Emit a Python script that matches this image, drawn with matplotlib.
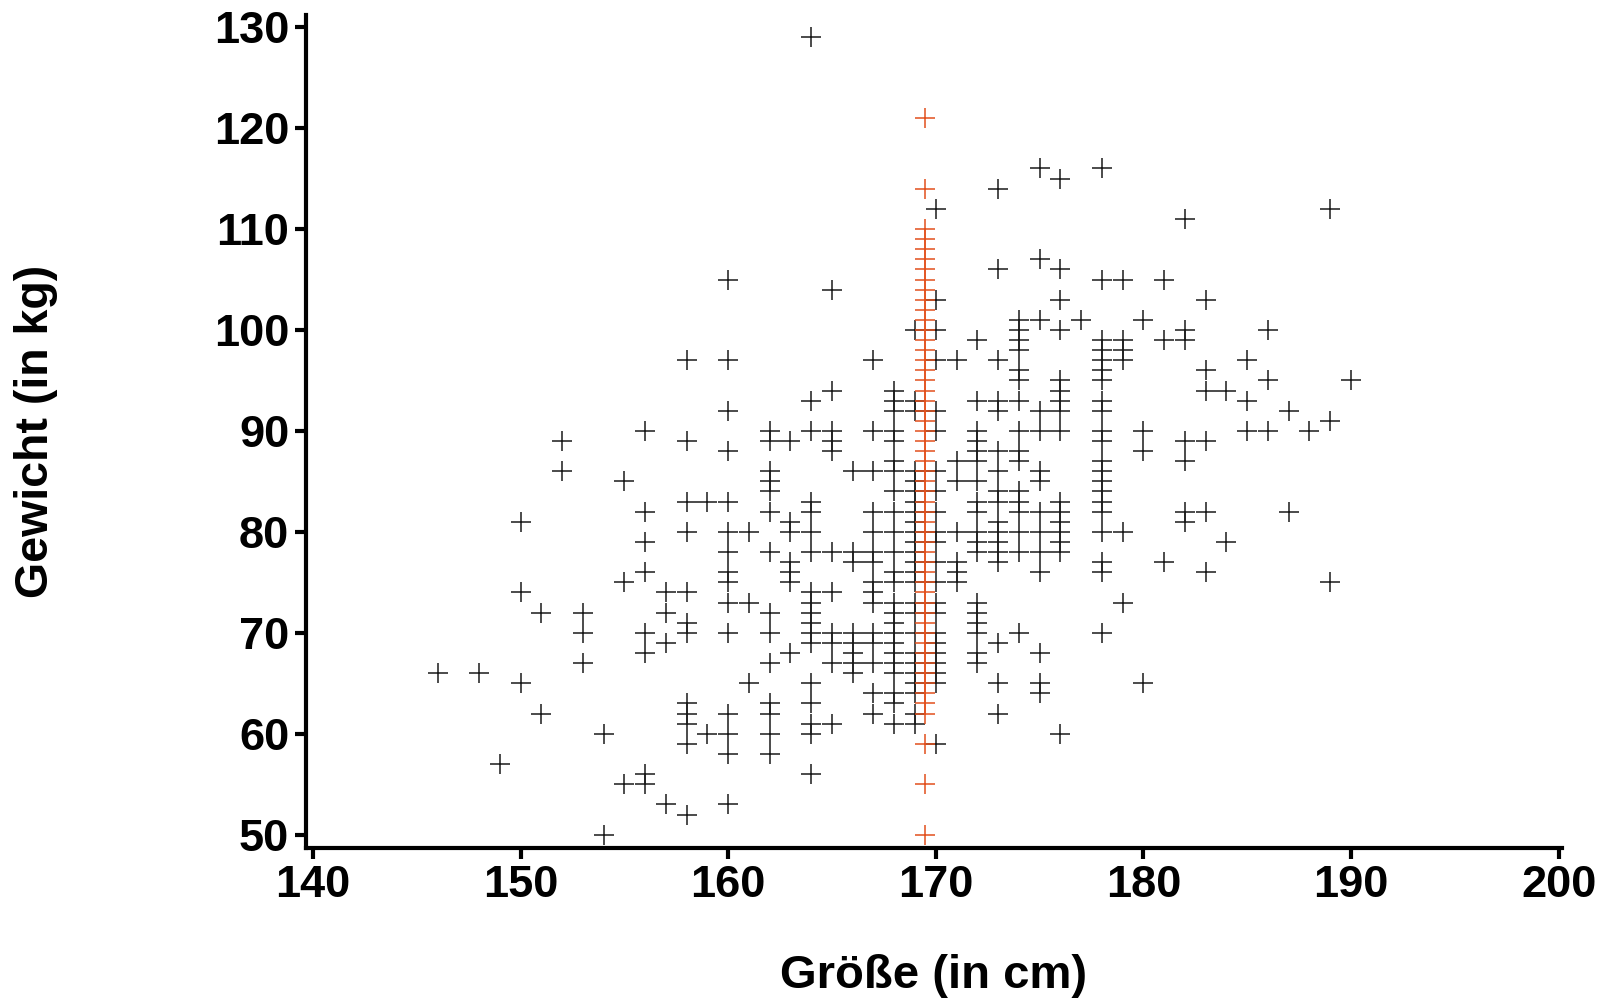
import matplotlib
matplotlib.use("Agg")
import matplotlib.pyplot as plt

# Größe (cm) -> list of Gewicht (kg) values
weights_by_height = {
    146: [66],
    148: [66],
    149: [57],
    150: [81, 74, 65],
    151: [72, 62],
    152: [89, 86],
    153: [72, 70, 67],
    154: [60, 50],
    155: [85, 75, 55],
    156: [90, 82, 79, 76, 70, 68, 56, 55],
    157: [74, 72, 69, 53],
    158: [97, 89, 83, 80, 74, 71, 70, 63, 62, 61, 59, 52],
    159: [83, 60],
    160: [105, 97, 92, 88, 83, 80, 78, 76, 75, 73, 70, 62, 60, 58, 53],
    161: [80, 73, 65],
    162: [90, 89, 86, 85, 84, 82, 78, 72, 70, 67, 63, 62, 60, 58],
    163: [89, 81, 80, 77, 76, 75, 68],
    164: [129, 93, 90, 83, 82, 80, 78, 74, 73, 72, 71, 70, 69, 65, 63, 61, 60, 56],
    165: [104, 94, 90, 89, 88, 78, 74, 70, 69, 67, 61],
    166: [86, 78, 77, 70, 69, 68, 67, 66],
    167: [97, 90, 86, 82, 80, 78, 77, 75, 74, 73, 70, 69, 67, 64, 62],
    168: [94, 93, 92, 90, 89, 87, 86, 84, 82, 80, 78, 76, 75, 73, 72, 71, 70,
          69, 68, 67, 66, 64, 63, 61],
    169: [100, 93, 92, 86, 85, 84, 83, 82, 81, 80, 79, 78, 77, 76, 75, 73, 72,
          70, 68, 67, 66, 65, 64, 62, 61],
    170: [112, 103, 100, 97, 92, 90, 86, 84, 82, 80, 79, 77, 75, 73, 72, 70,
          69, 68, 67, 66, 65, 59],
    171: [97, 87, 85, 80, 77, 76, 75],
    172: [99, 93, 90, 89, 88, 87, 85, 83, 82, 80, 79, 78, 73, 72, 71, 70, 68, 67],
    173: [114, 106, 97, 93, 92, 88, 86, 84, 83, 81, 80, 79, 78, 77, 69, 65, 62],
    174: [101, 100, 99, 98, 96, 95, 93, 90, 88, 87, 84, 83, 82, 80, 78, 70],
    175: [116, 107, 101, 92, 90, 86, 85, 82, 80, 78, 76, 68, 65, 64],
    176: [115, 106, 103, 100, 95, 94, 93, 92, 90, 83, 82, 81, 80, 79, 78, 60],
    177: [101],
    178: [116, 105, 99, 98, 97, 96, 95, 93, 92, 90, 89, 87, 86, 85, 84, 83,
          82, 80, 77, 76, 70],
    179: [105, 99, 98, 97, 80, 73],
    180: [101, 90, 88, 65],
    181: [105, 99, 77],
    182: [111, 100, 99, 89, 87, 82, 81],
    183: [103, 96, 94, 89, 82, 76],
    184: [94, 79],
    185: [97, 93, 90],
    186: [100, 95, 90],
    187: [92, 82],
    188: [90],
    189: [112, 91, 75],
    190: [95],
}

# imputed height (mean) for rows with missing Größe
imputed_height = 169.5
imputed_weights = [121, 114, 110, 109, 108, 107, 106, 105, 104, 103, 102, 101,
                   100, 99, 98, 97, 96, 95, 94, 93, 92, 91, 90, 89, 88, 87, 86,
                   85, 84, 83, 82, 81, 80, 79, 78, 77, 76, 75, 74, 73, 72, 71,
                   70, 69, 68, 67, 66, 65, 64, 63, 62, 59, 55, 50]

x_ticks = [140, 150, 160, 170, 180, 190, 200]
y_ticks = [50, 60, 70, 80, 90, 100, 110, 120, 130]

heights = []
weights = []
for h, ws in weights_by_height.items():
    for w in ws:
        heights.append(h)
        weights.append(w)

plt.rcParams['font.family'] = ['Liberation Sans', 'DejaVu Sans']
plt.rcParams['font.weight'] = 'bold'

fig = plt.figure(figsize=(16.1, 10.01), dpi=100)
ax = fig.add_axes([0.190, 0.153, 0.780, 0.832])

ax.plot(heights, weights, linestyle='none', marker='+', markersize=14,
        markeredgewidth=1.1, color='#1a1a1a')
ax.plot([imputed_height] * len(imputed_weights), imputed_weights,
        linestyle='none', marker='+', markersize=14, markeredgewidth=1.1,
        color='#e2501c')

ax.set_xlim(139.66, 200.15)
ax.set_ylim(48.7, 131.2)
ax.set_xticks(x_ticks)
ax.set_yticks(y_ticks)

for side in ['top', 'right']:
    ax.spines[side].set_visible(False)
for side in ['left', 'bottom']:
    ax.spines[side].set_linewidth(3)

ax.tick_params(axis='both', direction='out', length=8, width=3,
               labelsize=32.5, pad=4)
for lbl in ax.get_xticklabels() + ax.get_yticklabels():
    lbl.set_fontweight('bold')

ax.set_xlabel('Größe (in cm)', fontsize=34, fontweight='bold', labelpad=35)
ax.set_ylabel('Gewicht (in kg)', fontsize=33.5, fontweight='bold', labelpad=112)

fig.savefig('out.png', dpi=100, facecolor='white')
